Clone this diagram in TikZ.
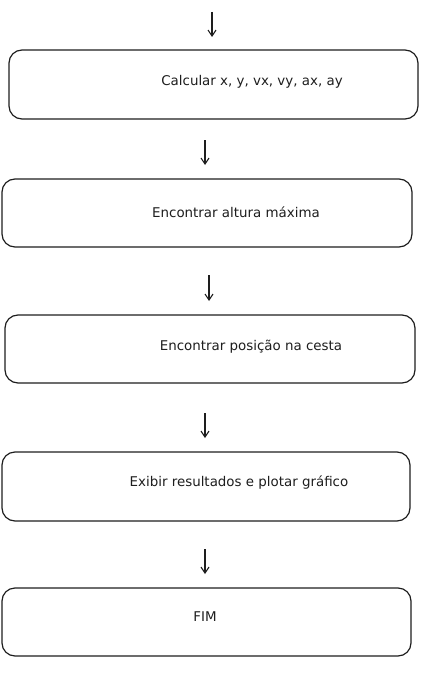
\documentclass[tikz,border=0pt]{standalone}
\usepackage{fontspec}
\setmainfont{DejaVu Sans}
\usetikzlibrary{arrows.meta}
\definecolor{ink}{HTML}{1E1E1E}
\begin{document}
\begin{tikzpicture}[x=1pt,y=-1pt,
  stepbox/.style={draw=ink,line width=1.2pt,rounded corners=13pt,fill=white},
  lbl/.style={font=\fontsize{13.4}{15}\selectfont,text=ink,inner sep=0pt},
  flow/.style={draw=ink,line width=1.1pt,-{Straight Barb[length=6pt,width=8pt,line width=1.1pt]}}]
\useasboundingbox (0,0) rectangle (426,682);
% boxes
\draw[stepbox] (9,50) rectangle (418,119);
\draw[stepbox] (2,179) rectangle (412,247);
\draw[stepbox] (5,315) rectangle (415,383);
\draw[stepbox] (2,452) rectangle (410,521);
\draw[stepbox] (2,588) rectangle (411,656);
% labels
\node[lbl] (t1) at (252,82) {Calcular x, y, vx, vy, ax, ay};
\node[lbl] (t2) at (236,212) {Encontrar altura máxima};
\node[lbl] (t3) at (251,347) {Encontrar posição na cesta};
\node[lbl] (t4) at (239,483) {Exibir resultados e plotar gráfico};
\node[lbl] (t5) at (205,617) {FIM};
% arrow endpoints
\coordinate (a0s) at (212,12); \coordinate (a0e) at (212,37);
\coordinate (a1s) at (205,140); \coordinate (a1e) at (205,165);
\coordinate (a2s) at (209,275); \coordinate (a2e) at (209,301);
\coordinate (a3s) at (205,413); \coordinate (a3e) at (205,438);
\coordinate (a4s) at (205,549); \coordinate (a4e) at (205,574);
\draw[flow] (a0s) -- (a0e);
\draw[flow] (a1s) -- (a1e);
\draw[flow] (a2s) -- (a2e);
\draw[flow] (a3s) -- (a3e);
\draw[flow] (a4s) -- (a4e);
\end{tikzpicture}
\end{document}
